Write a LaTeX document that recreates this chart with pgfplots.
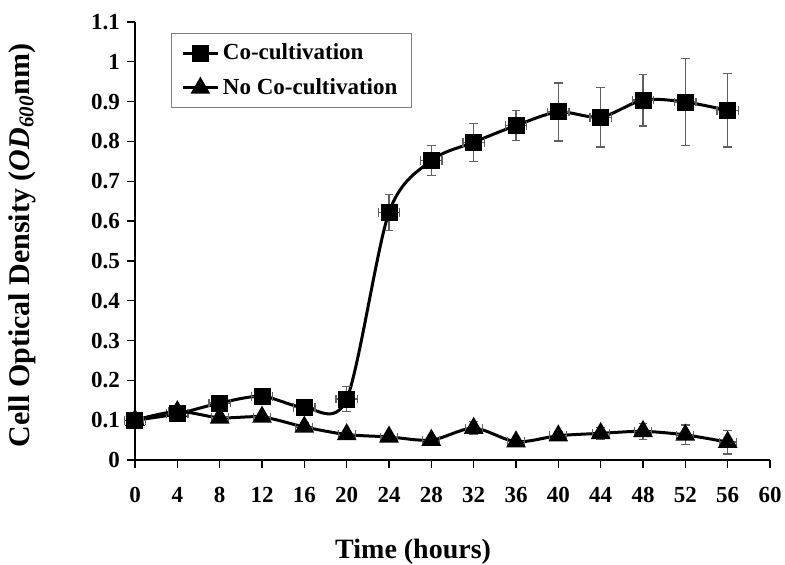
\documentclass[border=0pt]{standalone}
\usepackage{fontspec}
\setmainfont{Liberation Serif}
\usepackage{pgfplots}
\pgfplotsset{compat=1.18}
\usepackage{pgfplotstable}

\pgfplotstableread{
x y ex ey
0 0.100 1.0 0.008
4 0.116 1.0 0.010
8 0.143 1.0 0.010
12 0.160 1.0 0.008
16 0.132 1.0 0.008
20 0.153 1.0 0.032
24 0.622 1.0 0.045
28 0.752 1.0 0.037
32 0.798 1.0 0.048
36 0.840 1.0 0.038
40 0.874 1.0 0.073
44 0.861 1.0 0.075
48 0.904 1.0 0.065
52 0.899 1.0 0.110
56 0.878 1.0 0.092
}\cocult

\pgfplotstableread{
x y ex ey
0 0.100 0.8 0.008
4 0.122 0.8 0.010
8 0.106 0.8 0.010
12 0.108 0.8 0.012
16 0.083 0.8 0.010
20 0.064 0.8 0.008
24 0.058 0.8 0.012
28 0.050 0.8 0.008
32 0.080 0.8 0.016
36 0.046 0.8 0.008
40 0.061 0.8 0.010
44 0.067 0.8 0.014
48 0.072 0.8 0.020
52 0.063 0.8 0.025
56 0.045 0.8 0.030
}\nococult

\begin{document}
\begin{tikzpicture}
\begin{axis}[
  at={(0,0)}, anchor=south west,
  scale only axis,
  width=317.5pt, height=219pt,
  xmin=0, xmax=60, ymin=0, ymax=1.1,
  xtick={0,4,...,60},
  ytick={0,0.1,0.2,0.3,0.4,0.5,0.6,0.7,0.8,0.9,1,1.1},
  yticklabels={0,0.1,0.2,0.3,0.4,0.5,0.6,0.7,0.8,0.9,1,1.1},
  axis lines=left,
  axis line style={black, line width=0.6pt, -},
  tick align=outside,
  major tick length=4pt,
  tick style={black, line width=0.6pt},
  /pgf/number format/assume math mode=true,
  tick label style={font=\bfseries\fontsize{11.5}{13}\selectfont},
  xticklabel style={yshift=-6pt},
  clip=false,
  xlabel={Time (hours)},
  ylabel={Cell Optical Density (\textit{OD\textsubscript{600}}nm)},
  xlabel style={font=\bfseries\fontsize{14}{16}\selectfont, at={(axis description cs:0.438,-0.165)}, anchor=north},
  ylabel style={font=\bfseries\fontsize{15}{17}\selectfont, at={(axis description cs:-0.178,0.49)}, anchor=center, rotate=0},
  legend style={at={(axis description cs:0.057,0.975)}, anchor=north west,
    draw=gray, line width=0.6pt, font=\bfseries\fontsize{11.5}{13}\selectfont,
    row sep=4pt, inner xsep=5pt, inner ysep=3pt, cells={anchor=west}},
  legend cell align=left,
]
\addplot[black, line width=1.5pt, smooth, tension=0.5, mark=square*, mark size=3.5pt,
  mark options={solid, fill=black},
  error bars/.cd, y dir=both, y explicit, x dir=both, x explicit,
  error mark=|,
  error bar style={gray!75!black, line width=0.6pt, solid},
  error mark options={gray!75!black, mark size=2.2pt, line width=0.6pt, solid}]
  table[x=x, y=y, x error=ex, y error=ey] {\cocult};
\addlegendentry{Co-cultivation}
\addplot[black, line width=1.5pt, smooth, tension=0.5, mark=triangle*, mark size=4.2pt,
  mark options={solid, fill=black},
  error bars/.cd, y dir=both, y explicit, x dir=both, x explicit,
  error mark=|,
  error bar style={gray!75!black, line width=0.6pt, solid},
  error mark options={gray!75!black, mark size=2.2pt, line width=0.6pt, solid}]
  table[x=x, y=y, x error=ex, y error=ey] {\nococult};
\addlegendentry{No Co-cultivation}
\end{axis}
\pgfresetboundingbox
\path (-67.5pt,-52pt) rectangle (325pt,230pt);
\end{tikzpicture}
\end{document}
